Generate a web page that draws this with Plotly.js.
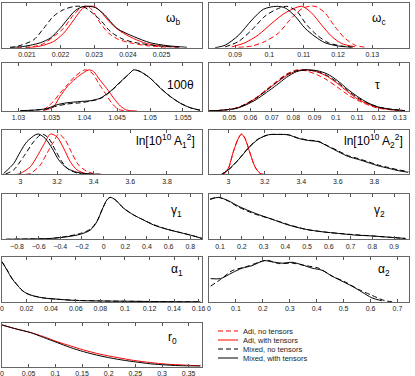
<!DOCTYPE html>
<html>
<head>
<meta charset="utf-8">
<script src="https://cdn.plot.ly/plotly-3.0.1.min.js"></script>
<style>
  html, body { margin: 0; padding: 0; background: #fff; }
  #plot { width: 415px; height: 376px; }
</style>
</head>
<body>
<div id="plot"></div>
<script>
// ---- data (normalised 1-D likelihoods) ------------------------------------

// omega_b
const wbTicks = [0.021, 0.022, 0.023, 0.024, 0.025];
const wbAdiNx = [0.0207, 0.0212, 0.0215, 0.02179, 0.02209, 0.02239, 0.02263, 0.02278, 0.02293, 0.02318, 0.02343, 0.02372, 0.02417, 0.02466, 0.0252];
const wbAdiNy = [0, 0.03, 0.1, 0.27, 0.47, 0.8, 0.98, 1.0, 0.92, 0.59, 0.35, 0.2, 0.1, 0.04, 0.01];
const wbAdiTx = [0.021, 0.0214, 0.02179, 0.02209, 0.02239, 0.02268, 0.02298, 0.02318, 0.02348, 0.02377, 0.02417, 0.02456, 0.02496, 0.0255];
const wbAdiTy = [0, 0.04, 0.15, 0.35, 0.67, 0.96, 1.0, 0.88, 0.6, 0.4, 0.22, 0.1, 0.04, 0.01];
const wbMixNx = [0.0205, 0.0207, 0.0212, 0.0215, 0.02179, 0.02209, 0.02244, 0.0227, 0.02318, 0.02348, 0.02387, 0.02437, 0.02496, 0.02555];
const wbMixNy = [0.01, 0.03, 0.19, 0.47, 0.76, 0.92, 1.0, 0.98, 0.67, 0.39, 0.2, 0.1, 0.04, 0.01];
const wbMixTx = [0.0205, 0.0208, 0.0211, 0.0214, 0.02169, 0.02199, 0.02219, 0.02244, 0.0227, 0.02303, 0.0233, 0.02367, 0.02417, 0.02466, 0.02516, 0.02575];
const wbMixTy = [0.005, 0.02, 0.06, 0.12, 0.23, 0.47, 0.67, 0.9, 1.0, 0.97, 0.8, 0.47, 0.27, 0.12, 0.05, 0.01];

// omega_c
const wcTicks = [0.09, 0.1, 0.11, 0.12, 0.13];
const wcAdiNx = [0.091, 0.0949, 0.0987, 0.1026, 0.1065, 0.1099, 0.1133, 0.1162, 0.1191, 0.122, 0.125, 0.1279];
const wcAdiNy = [0.01, 0.04, 0.15, 0.35, 0.72, 0.96, 1.0, 0.84, 0.51, 0.23, 0.06, 0.01];
const wcAdiTx = [0.089, 0.0929, 0.0968, 0.1007, 0.1046, 0.1094, 0.1123, 0.1152, 0.1182, 0.1211, 0.125];
const wcAdiTy = [0.02, 0.12, 0.31, 0.59, 0.84, 1.0, 0.84, 0.55, 0.27, 0.1, 0.02];
const wcMixNx = [0.0871, 0.091, 0.0949, 0.0987, 0.1021, 0.1051, 0.108, 0.1109, 0.1138, 0.1172, 0.1211, 0.125];
const wcMixNy = [0.02, 0.15, 0.43, 0.76, 0.93, 1.0, 0.88, 0.55, 0.31, 0.12, 0.04, 0.01];
const wcMixTx = [0.0842, 0.0871, 0.091, 0.0949, 0.0983, 0.1021, 0.1046, 0.1075, 0.1104, 0.1133, 0.1162, 0.1201, 0.124];
const wcMixTy = [0, 0.06, 0.3, 0.67, 0.93, 1.0, 0.96, 0.76, 0.47, 0.27, 0.12, 0.04, 0.01];

// 100 theta
const thTicks = [1.03, 1.035, 1.04, 1.045, 1.05, 1.055];
const thAdiNx = [1.0338, 1.0353, 1.0363, 1.0374, 1.0386, 1.0401, 1.0412, 1.0422, 1.0432, 1.0442, 1.0452, 1.0465];
const thAdiNy = [0.02, 0.23, 0.43, 0.63, 0.84, 1.0, 0.92, 0.67, 0.43, 0.19, 0.04, 0];
const thAdiTx = [1.0338, 1.0353, 1.0363, 1.0374, 1.0384, 1.0396, 1.0407, 1.0414, 1.0424, 1.0434, 1.0445, 1.0455, 1.0465, 1.048];
const thAdiTy = [0.01, 0.1, 0.35, 0.59, 0.75, 0.9, 1.0, 0.96, 0.75, 0.55, 0.31, 0.12, 0.02, 0];
const thMixX = [1.0303, 1.0323, 1.0343, 1.0358, 1.0374, 1.0394, 1.0409, 1.0424, 1.0439, 1.0455, 1.047, 1.0475, 1.0485, 1.05, 1.0516, 1.0531, 1.0546, 1.0561, 1.0576];
const thMixNy = [0.01, 0.02, 0.05, 0.12, 0.17, 0.2, 0.24, 0.3, 0.46, 0.7, 0.93, 1.0, 0.96, 0.8, 0.56, 0.35, 0.19, 0.08, 0.02];
const thMixTy = [0.01, 0.02, 0.06, 0.15, 0.2, 0.23, 0.25, 0.31, 0.47, 0.71, 0.93, 1.0, 0.96, 0.8, 0.55, 0.35, 0.19, 0.08, 0.02];

// tau
const tauTicks = [0.05, 0.06, 0.07, 0.08, 0.09, 0.1, 0.11, 0.12, 0.13];
const tauX = [0.0405, 0.0468, 0.0532, 0.0579, 0.0627, 0.0674, 0.0722, 0.0769, 0.0817, 0.0865, 0.0912, 0.096, 0.1007, 0.1055, 0.1102, 0.115, 0.1197, 0.1261, 0.1324];
const tauAdiNy = [0, 0.02, 0.07, 0.18, 0.33, 0.52, 0.72, 0.9, 1.0, 0.97, 0.88, 0.75, 0.58, 0.4, 0.26, 0.15, 0.07, 0.03, 0.01];
const tauAdiTy = [0, 0.02, 0.07, 0.17, 0.32, 0.5, 0.69, 0.86, 0.98, 1.0, 0.95, 0.84, 0.67, 0.47, 0.29, 0.17, 0.09, 0.03, 0.01];
const tauMixNy = [0, 0.02, 0.07, 0.17, 0.31, 0.5, 0.7, 0.88, 0.98, 1.0, 0.96, 0.86, 0.7, 0.5, 0.32, 0.19, 0.1, 0.04, 0.01];
const tauMixTy = [0, 0.02, 0.06, 0.15, 0.28, 0.45, 0.63, 0.82, 0.96, 1.0, 0.98, 0.9, 0.74, 0.53, 0.35, 0.2, 0.1, 0.04, 0.01];

// ln[10^10 A_1^2]
const lnTicks = [3, 3.2, 3.4, 3.6, 3.8];
const a1AdiNx = [3.03, 3.055, 3.109, 3.145, 3.182, 3.209, 3.245, 3.282, 3.318, 3.364, 3.409, 3.45];
const a1AdiNy = [0, 0.02, 0.23, 0.52, 0.81, 1.0, 0.85, 0.52, 0.23, 0.07, 0.01, 0];
const a1AdiTx = [2.98, 3.0, 3.055, 3.091, 3.127, 3.164, 3.2, 3.236, 3.273, 3.309, 3.355, 3.4];
const a1AdiTy = [0, 0.02, 0.19, 0.44, 0.73, 1.0, 0.93, 0.65, 0.31, 0.11, 0.02, 0];
const a1MixNx = [2.92, 2.964, 3.018, 3.073, 3.118, 3.155, 3.191, 3.227, 3.264, 3.318, 3.36];
const a1MixNy = [0.01, 0.11, 0.44, 0.81, 1.0, 0.89, 0.6, 0.31, 0.12, 0.02, 0];
const a1MixTx = [2.909, 2.964, 3.0, 3.036, 3.082, 3.1, 3.136, 3.173, 3.209, 3.255, 3.309, 3.382, 3.436];
const a1MixTy = [0.02, 0.27, 0.56, 0.81, 0.98, 1.0, 0.89, 0.65, 0.36, 0.15, 0.05, 0.01, 0];

// ln[10^10 A_2^2]
const a2AdiX = [2.973, 3.0, 3.027, 3.055, 3.073, 3.091, 3.119, 3.146, 3.174, 3.192];
const a2AdiNy = [0, 0.14, 0.55, 0.9, 1.0, 0.9, 0.53, 0.18, 0.02, 0];
const a2AdiTy = [0, 0.15, 0.56, 0.89, 1.0, 0.89, 0.52, 0.19, 0.02, 0];
const a2MixX = [2.963, 3.0, 3.055, 3.11, 3.164, 3.219, 3.274, 3.329, 3.384, 3.438, 3.493, 3.548, 3.603, 3.658, 3.712, 3.767, 3.822, 3.877, 3.932, 3.986];
const a2MixNy = [0, 0.11, 0.36, 0.66, 0.88, 0.98, 0.99, 0.98, 0.9, 0.85, 0.82, 0.7, 0.58, 0.46, 0.39, 0.31, 0.23, 0.17, 0.11, 0.07];
const a2MixTy = [0, 0.11, 0.36, 0.65, 0.87, 0.98, 0.99, 0.98, 0.89, 0.84, 0.81, 0.69, 0.56, 0.44, 0.37, 0.29, 0.21, 0.15, 0.09, 0.05];

// gamma_1, gamma_2 (mixed models only)
const g1Ticks = [-0.8, -0.6, -0.4, -0.2, 0, 0.2, 0.4, 0.6, 0.8];
const g1X = [-0.9, -0.646, -0.492, -0.338, -0.215, -0.123, -0.062, -0.015, 0.031, 0.062, 0.108, 0.185, 0.277, 0.369, 0.462, 0.585, 0.708, 0.831, 0.908];
const g1MixNy = [0, 0.01, 0.02, 0.07, 0.14, 0.24, 0.43, 0.7, 0.94, 1.0, 0.94, 0.74, 0.58, 0.46, 0.35, 0.24, 0.16, 0.08, 0.02];
const g1MixTy = [0, 0.01, 0.02, 0.06, 0.12, 0.22, 0.42, 0.7, 0.94, 1.0, 0.94, 0.74, 0.58, 0.46, 0.34, 0.24, 0.16, 0.08, 0.02];
const g2Ticks = [0.1, 0.2, 0.3, 0.4, 0.5, 0.6, 0.7, 0.8, 0.9];
const g2X = [0.054, 0.092, 0.138, 0.184, 0.261, 0.338, 0.415, 0.492, 0.569, 0.645, 0.722, 0.799, 0.876, 0.953];
const g2MixNy = [0.96, 1.0, 0.91, 0.77, 0.6, 0.48, 0.35, 0.24, 0.18, 0.14, 0.11, 0.08, 0.05, 0.02];
const g2MixTy = [0.95, 1.0, 0.92, 0.79, 0.62, 0.48, 0.34, 0.24, 0.18, 0.14, 0.1, 0.08, 0.05, 0.02];

// alpha_1, alpha_2
const al1Ticks = [0, 0.02, 0.04, 0.06, 0.08, 0.1, 0.12, 0.14, 0.16];
const al1X = [0, 0.0041, 0.0081, 0.0122, 0.0163, 0.0203, 0.0258, 0.0339, 0.0447, 0.0583, 0.08, 0.1071, 0.1342, 0.1614];
const al1MixNy = [1.0, 0.8, 0.59, 0.43, 0.29, 0.21, 0.15, 0.1, 0.07, 0.045, 0.027, 0.017, 0.009, 0.004];
const al1MixTy = [1.0, 0.79, 0.58, 0.43, 0.29, 0.21, 0.15, 0.1, 0.07, 0.04, 0.025, 0.017, 0.008, 0.004];
const al2Ticks = [0, 0.1, 0.2, 0.3, 0.4, 0.5, 0.6, 0.7];
const al2MixNx = [0.006, 0.043, 0.086, 0.136, 0.185, 0.216, 0.259, 0.309, 0.358, 0.407, 0.457, 0.506, 0.556, 0.605, 0.654, 0.679];
const al2MixNy = [0.38, 0.54, 0.75, 0.84, 0.95, 1.0, 0.92, 0.93, 0.87, 0.81, 0.62, 0.48, 0.3, 0.16, 0.03, 0.01];
const al2MixTx = [0.006, 0.043, 0.086, 0.123, 0.16, 0.204, 0.235, 0.272, 0.309, 0.346, 0.383, 0.42, 0.457, 0.494, 0.531, 0.568, 0.605, 0.642];
const al2MixTy = [0.56, 0.56, 0.7, 0.81, 0.87, 0.99, 0.96, 0.93, 0.95, 0.89, 0.81, 0.76, 0.62, 0.5, 0.38, 0.24, 0.1, 0.03];

// r_0 (with tensors only)
const r0Ticks = [0, 0.05, 0.1, 0.15, 0.2, 0.25, 0.3, 0.35];
const r0X = [0, 0.028, 0.053, 0.078, 0.103, 0.128, 0.153, 0.184, 0.216, 0.247, 0.278, 0.309, 0.341, 0.372];
const r0AdiTy = [1.0, 0.9, 0.82, 0.72, 0.6, 0.5, 0.4, 0.3, 0.22, 0.15, 0.1, 0.06, 0.04, 0.02];
const r0MixTy = [1.0, 0.9, 0.82, 0.7, 0.58, 0.46, 0.36, 0.26, 0.18, 0.12, 0.07, 0.04, 0.02, 0.016];

const legendNames = ['Adi, no tensors', 'Adi, with tensors', 'Mixed, no tensors', 'Mixed, with tensors'];

//------------------------------------------------------------------------------

const W = 415, H = 376;
const FONT = 'Liberation Sans, Arial, sans-serif';
const DASH = '5px,3px';
const styles = {
  adiN: {color: '#ff0000', dash: DASH},
  adiT: {color: '#ff0000', dash: 'solid'},
  mixN: {color: '#000000', dash: DASH},
  mixT: {color: '#000000', dash: 'solid'},
};

// panel boxes in pixels
const rowsPx = [[3, 47.7], [63.3, 111], [130, 174.3], [194, 239.3], [257.3, 302], [323.3, 366.7]];
const colsPx = [[2, 202], [209, 409]];

const panels = [
  {label: 'ω<sub>b</sub>', lx: 173, ly: 19, row: 0, col: 0, range: [0.02026, 0.0262], ticks: wbTicks, ymax: 1.08,
   curves: [['adiN', wbAdiNx, wbAdiNy], ['adiT', wbAdiTx, wbAdiTy], ['mixN', wbMixNx, wbMixNy], ['mixT', wbMixTx, wbMixTy]]},
  {label: 'ω<sub>c</sub>', lx: 379, ly: 19, row: 0, col: 1, range: [0.0824, 0.1407], ticks: wcTicks, ymax: 1.08,
   curves: [['adiN', wcAdiNx, wcAdiNy], ['adiT', wcAdiTx, wcAdiTy], ['mixN', wcMixNx, wcMixNy], ['mixT', wcMixTx, wcMixTy]]},
  {label: '100θ', lx: 180, ly: 85, row: 1, col: 0, range: [1.0275, 1.0579], ticks: thTicks, ymax: 1.16,
   curves: [['adiN', thAdiNx, thAdiNy], ['adiT', thAdiTx, thAdiTy], ['mixN', thMixX, thMixNy], ['mixT', thMixX, thMixTy]]},
  {label: 'τ', lx: 377, ly: 85, row: 1, col: 1, range: [0.0405, 0.1343], ticks: tauTicks, ymax: 1.16,
   curves: [['adiN', tauX, tauAdiNy], ['adiT', tauX, tauAdiTy], ['mixN', tauX, tauMixNy], ['mixT', tauX, tauMixTy]]},
  {label: 'ln[10<sup>10</sup> A<sub>1</sub><sup>2</sup>]', lx: 197, ly: 141, anchor: 'right', row: 2, col: 0, range: [2.9, 3.991], ticks: lnTicks, ymax: 1.1,
   curves: [['adiN', a1AdiNx, a1AdiNy], ['adiT', a1AdiTx, a1AdiTy], ['mixN', a1MixNx, a1MixNy], ['mixT', a1MixTx, a1MixTy]]},
  {label: 'ln[10<sup>10</sup> A<sub>2</sub><sup>2</sup>]', lx: 405, ly: 141, anchor: 'right', row: 2, col: 1, range: [2.894, 3.99], ticks: lnTicks, ymax: 1.1,
   curves: [['adiN', a2AdiX, a2AdiNy], ['adiT', a2AdiX, a2AdiTy], ['mixN', a2MixX, a2MixNy], ['mixT', a2MixX, a2MixTy]]},
  {label: 'γ<sub>1</sub>', lx: 176, ly: 211, row: 3, col: 0, range: [-0.938, 0.908], ticks: g1Ticks, ymax: 1.08,
   curves: [['mixN', g1X, g1MixNy], ['mixT', g1X, g1MixTy]]},
  {label: 'γ<sub>2</sub>', lx: 379, ly: 211, row: 3, col: 1, range: [0.049, 0.969], ticks: g2Ticks, ymax: 1.08,
   curves: [['mixN', g2X, g2MixNy], ['mixT', g2X, g2MixTy]]},
  {label: 'α<sub>1</sub>', lx: 177, ly: 270, row: 4, col: 0, range: [0, 0.1627], ticks: al1Ticks, ymax: 1.11,
   curves: [['mixN', al1X, al1MixNy], ['mixT', al1X, al1MixTy]]},
  {label: 'α<sub>2</sub>', lx: 384, ly: 270, row: 4, col: 1, range: [0, 0.743], ticks: al2Ticks, ymax: 1.07,
   curves: [['mixN', al2MixNx, al2MixNy], ['mixT', al2MixTx, al2MixTy]]},
  {label: 'r<sub>0</sub>', lx: 172, ly: 338, row: 5, col: 0, range: [0, 0.375], ticks: r0Ticks, ymax: 1.04,
   curves: [['adiT', r0X, r0AdiTy], ['mixT', r0X, r0MixTy]]},
];

const px2x = p => p / W;
const py2y = p => 1 - p / H;

const traces = [];
const layout = {
  width: W, height: H,
  margin: {l: 0, r: 0, t: 0, b: 0},
  paper_bgcolor: '#fff', plot_bgcolor: '#fff',
  showlegend: false,
  font: {family: FONT, color: '#222'},
  annotations: [],
  shapes: [],
};

panels.forEach((p, i) => {
  const n = i + 1;
  const id = n === 1 ? '' : String(n);
  const [x0, x1] = colsPx[p.col];
  const [y0, y1] = rowsPx[p.row];

  layout['xaxis' + id] = {
    domain: [px2x(x0), px2x(x1)], range: p.range, anchor: 'y' + id,
    tickmode: 'array', tickvals: p.ticks,
    ticks: 'inside', ticklen: 3, tickwidth: 1, tickcolor: '#555',
    showline: true, linecolor: '#666', linewidth: 1, mirror: 'ticks',
    showgrid: false, zeroline: false,
    tickfont: {family: FONT, size: 7, color: '#222'},
  };
  layout['yaxis' + id] = {
    domain: [py2y(y1), py2y(y0)], range: [0, p.ymax], anchor: 'x' + id,
    showline: true, linecolor: '#666', linewidth: 1, mirror: true,
    ticks: '', showticklabels: false, showgrid: false, zeroline: false,
  };

  p.curves.forEach(([key, xs, ys]) => {
    traces.push({
      x: xs, y: ys, xaxis: 'x' + id, yaxis: 'y' + id,
      type: 'scatter', mode: 'lines', hoverinfo: 'skip', showlegend: false,
      line: {color: styles[key].color, dash: styles[key].dash, width: 1, shape: 'spline', smoothing: 0.8},
    });
  });

  layout.annotations.push({
    text: p.label, xref: 'paper', yref: 'paper',
    x: px2x(p.lx), y: py2y(p.ly), xanchor: p.anchor || 'center', yanchor: 'middle',
    showarrow: false, font: {family: FONT, size: 12, color: '#000'},
  });
});

// hand-made legend (Plotly's own legend rows are too tall for this layout)
['adiN', 'adiT', 'mixN', 'mixT'].forEach((key, k) => {
  const yy = py2y(331 + 9 * k);
  layout.shapes.push({
    type: 'line', xref: 'paper', yref: 'paper',
    x0: px2x(218), x1: px2x(238), y0: yy, y1: yy,
    line: {color: styles[key].color, width: 1, dash: styles[key].dash},
  });
  layout.annotations.push({
    text: legendNames[k], xref: 'paper', yref: 'paper',
    x: px2x(241), y: yy, xanchor: 'left', yanchor: 'middle',
    showarrow: false, font: {family: FONT, size: 7.5, color: '#222'},
  });
});

Plotly.newPlot('plot', traces, layout, {staticPlot: true, displayModeBar: false});
</script>
</body>
</html>
